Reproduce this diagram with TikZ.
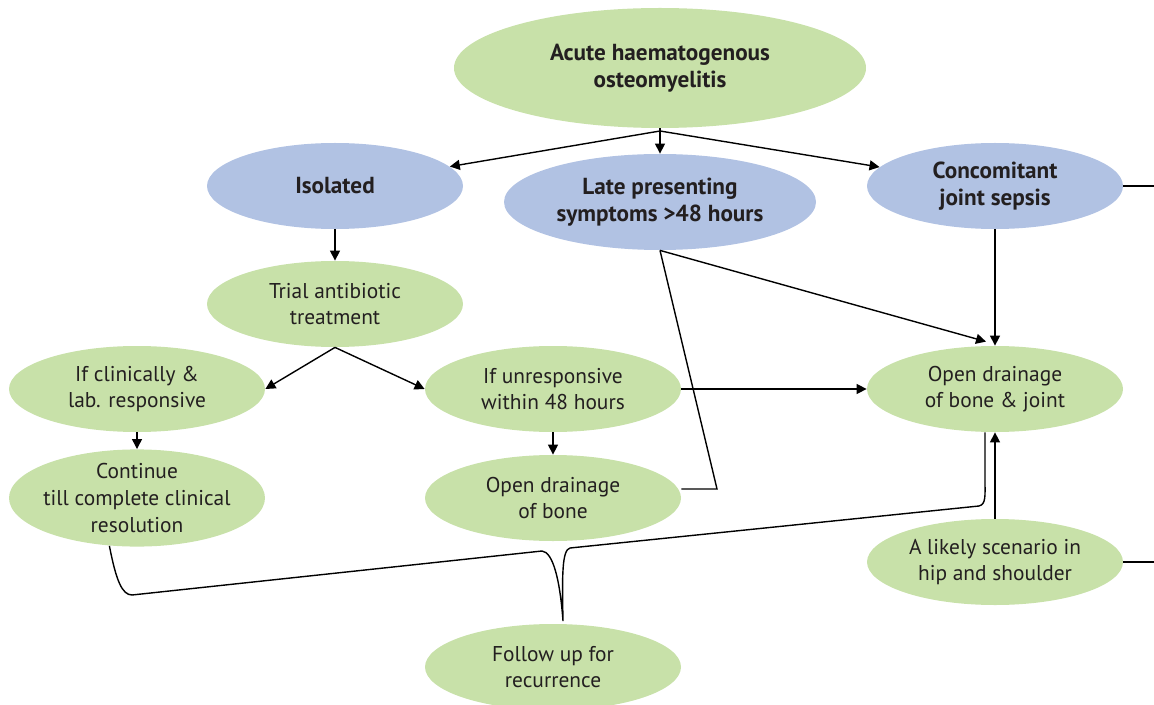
\documentclass[tikz,border=0pt]{standalone}
\usepackage{fontspec}
\setmainfont{PT Sans}
\usetikzlibrary{arrows.meta,shapes.geometric,calc}
\definecolor{greenfill}{HTML}{C8E1A9}
\definecolor{bluefill}{HTML}{B1C2E3}
\definecolor{textgray}{HTML}{231F20}
\tikzset{
  box/.style={ellipse,fill=greenfill,minimum width=128pt,minimum height=43pt,
    inner sep=0pt,align=center,text=textgray,font=\fontsize{10.7}{13.3}\selectfont},
  boldbox/.style={box,font=\fontsize{11.6}{13.5}\selectfont\bfseries},
  bluebox/.style={boldbox,fill=bluefill},
  arr/.style={line width=0.7pt,-{Triangle[length=5pt,width=5pt]}},
  ln/.style={line width=0.7pt}
}
\begin{document}
\begin{tikzpicture}[x=0.5pt,y=-0.5pt]
  \useasboundingbox (0,0) rectangle (1154,705);
  % nodes
  \node[boldbox,minimum width=206pt,minimum height=60pt] (aho) at (660,68) {Acute haematogenous\\osteomyelitis};
  \node[bluebox] (iso) at (335,186) {Isolated};
  \node[bluebox,minimum width=156pt,minimum height=48pt] (late) at (660,202) {Late presenting\\symptoms >48 hours};
  \node[bluebox] (conc) at (995,186) {Concomitant\\joint sepsis};
  \node[box] (trial) at (335,304) {Trial antibiotic\\treatment};
  \node[box] (clin) at (137,389) {If clinically \&\\lab. responsive};
  \node[box] (unresp) at (553,389) {If unresponsive\\within 48 hours};
  \node[box] (odj) at (995,389) {Open drainage\\of bone \& joint};
  \node[box,minimum height=44pt,inner xsep=-4pt] (cont) at (137,498) {Continue\\till complete clinical\\resolution};
  \node[box] (odb) at (553,498) {Open drainage\\of bone};
  \node[box] (likely) at (995,562) {A likely scenario in\\hip and shoulder};
  \node[box] (fup) at (553,667) {Follow up for\\recurrence};
  % free ends and bends
  \coordinate (split) at (660,131);
  \coordinate (kink) at (717,489);
  \coordinate (offc) at (1154,186);
  \coordinate (offl) at (1154,562);
  \coordinate (tip) at (563,621);
  % connectors
  \draw[ln] (aho.south) -- (split);
  \draw[arr] (split) -- (iso);
  \draw[arr] (split) -- (late.north);
  \draw[arr] (split) -- (conc);
  \draw[arr] (iso) -- (trial);
  \draw[arr] (trial.south) -- (clin.east);
  \draw[arr] (trial.south) -- (unresp.west);
  \draw[arr] (clin) -- (cont);
  \draw[arr] (unresp) -- (odb);
  \draw[arr] (unresp.east) -- (odj.west);
  \draw[arr] (conc) -- (odj);
  \draw[arr] (late.south) -- ($(odj.north)+(-9,-4)$);
  \draw[ln] (late.south) -- (kink) -- (kink -| odb.east);
  \draw[arr] (likely) -- (odj);
  \draw[ln] (conc.east) -- (offc);
  \draw[ln] (likely.east) -- (offl);
  % brace to follow up
  \draw[ln] (cont.240) .. controls (116,580) and (122,595) .. (132,595)
    -- (542,551) .. controls (553,552) and (560,580) .. (tip)
    .. controls (562,575) and (562,550) .. (570,548)
    -- (979,506) .. controls (986,504) and (985,496) .. (985,482)
    -- ($(odj.south)+(-10,0)$);
\end{tikzpicture}
\end{document}
